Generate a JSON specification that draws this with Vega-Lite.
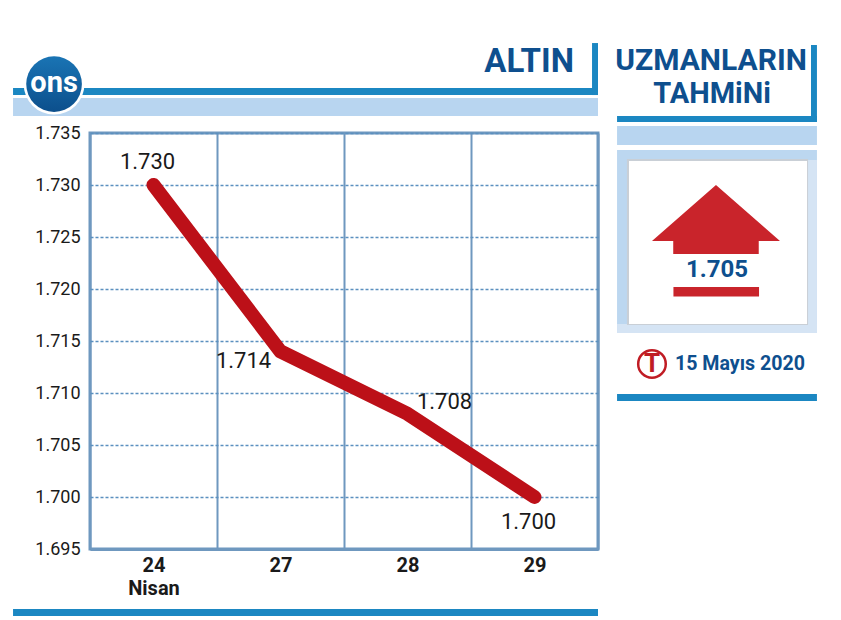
{
  "$schema": "https://vega.github.io/schema/vega-lite/v6.json",
  "description": "Altin ons fiyati, 24-29 Nisan, ve uzman tahmini",
  "width": 508,
  "height": 416,
  "autosize": {"type": "none"},
  "padding": {"left": 90, "top": 133, "right": 243, "bottom": 71},
  "background": "white",
  "view": {"stroke": "#6f98bf", "strokeWidth": 3},
  "config": {"text": {"font": "Roboto"}},
  "resolve": {"scale": {"x": "independent", "y": "independent"}},
  "layer": [
    {
      "data": {"values": [{}]},
      "layer": [
        {"mark": {"type": "rect", "color": "#1b87c2"}, "encoding": {
          "x": {"datum": -0.606, "type": "quantitative", "scale": {"domain": [0, 4]}, "axis": null},
          "x2": {"datum": 4},
          "y": {"datum": 1739.33, "type": "quantitative", "scale": {"domain": [1695, 1735]}, "axis": null},
          "y2": {"datum": 1738.65}}},
        {"mark": {"type": "rect", "color": "#1b87c2"}, "encoding": {
          "x": {"datum": 3.953, "type": "quantitative", "axis": null},
          "x2": {"datum": 4},
          "y": {"datum": 1743.65, "type": "quantitative", "axis": null},
          "y2": {"datum": 1738.65}}},
        {"mark": {"type": "rect", "color": "#b8d5f0"}, "encoding": {
          "x": {"datum": -0.606, "type": "quantitative", "axis": null},
          "x2": {"datum": 4},
          "y": {"datum": 1738.37, "type": "quantitative", "axis": null},
          "y2": {"datum": 1736.63}}},
        {"mark": {"type": "rect", "color": "#1b87c2"}, "encoding": {
          "x": {"datum": -0.606, "type": "quantitative", "axis": null},
          "x2": {"datum": 4},
          "y": {"datum": 1689.23, "type": "quantitative", "axis": null},
          "y2": {"datum": 1688.56}}},
        {"mark": {"type": "point", "shape": "circle", "filled": true, "size": 3700, "color": "white", "opacity": 1}, "encoding": {
          "x": {"datum": -0.283, "type": "quantitative", "axis": null},
          "y": {"datum": 1739.7, "type": "quantitative", "axis": null}}},
        {"mark": {"type": "point", "shape": "circle", "filled": true, "size": 3100, "opacity": 1,
          "fill": {"gradient": "linear", "x1": 0, "y1": 0, "x2": 0, "y2": 1, "stops": [{"offset": 0, "color": "#1a74b4"}, {"offset": 1, "color": "#0c4f8c"}]}}, "encoding": {
          "x": {"datum": -0.283, "type": "quantitative", "axis": null},
          "y": {"datum": 1739.7, "type": "quantitative", "axis": null}}},
        {"mark": {"type": "text", "text": "ons", "color": "white", "fontWeight": "bold", "fontSize": 29, "align": "center", "baseline": "middle"}, "encoding": {
          "x": {"datum": -0.283, "type": "quantitative", "axis": null},
          "y": {"datum": 1739.8, "type": "quantitative", "axis": null}}},
        {"mark": {"type": "text", "text": "ALTIN", "color": "#0e4f8e", "fontWeight": "bold", "fontSize": 33, "align": "right", "baseline": "middle"}, "encoding": {
          "x": {"datum": 3.811, "type": "quantitative", "axis": null},
          "y": {"datum": 1741.83, "type": "quantitative", "axis": null}}},

        {"mark": {"type": "text", "text": "UZMANLARIN", "color": "#0e4f8e", "fontWeight": "bold", "fontSize": 30, "align": "center", "baseline": "middle"}, "encoding": {
          "x": {"datum": 4.89, "type": "quantitative", "axis": null},
          "y": {"datum": 1741.97, "type": "quantitative", "axis": null}}},
        {"mark": {"type": "text", "text": "TAHMiNi", "color": "#0e4f8e", "fontWeight": "bold", "fontSize": 29, "align": "center", "baseline": "middle"}, "encoding": {
          "x": {"datum": 4.898, "type": "quantitative", "axis": null},
          "y": {"datum": 1738.75, "type": "quantitative", "axis": null}}},
        {"mark": {"type": "rect", "color": "#1b87c2"}, "encoding": {
          "x": {"datum": 4.15, "type": "quantitative", "axis": null},
          "x2": {"datum": 5.724},
          "y": {"datum": 1736.63, "type": "quantitative", "axis": null},
          "y2": {"datum": 1736.06}}},
        {"mark": {"type": "rect", "color": "#1b87c2"}, "encoding": {
          "x": {"datum": 5.677, "type": "quantitative", "axis": null},
          "x2": {"datum": 5.724},
          "y": {"datum": 1743.46, "type": "quantitative", "axis": null},
          "y2": {"datum": 1736.06}}},
        {"mark": {"type": "rect", "color": "#b8d5f0"}, "encoding": {
          "x": {"datum": 4.15, "type": "quantitative", "axis": null},
          "x2": {"datum": 5.724},
          "y": {"datum": 1735.67, "type": "quantitative", "axis": null},
          "y2": {"datum": 1733.85}}},
        {"mark": {"type": "rect", "color": "#bcd7f0"}, "encoding": {
          "x": {"datum": 4.15, "type": "quantitative", "axis": null},
          "x2": {"datum": 5.724},
          "y": {"datum": 1733.37, "type": "quantitative", "axis": null},
          "y2": {"datum": 1715.77}}},
        {"mark": {"type": "rect", "color": "#d5e4f4"}, "encoding": {
          "x": {"datum": 5.646, "type": "quantitative", "axis": null},
          "x2": {"datum": 5.724},
          "y": {"datum": 1732.4, "type": "quantitative", "axis": null},
          "y2": {"datum": 1715.77}}},
        {"mark": {"type": "rect", "color": "#d5e4f4"}, "encoding": {
          "x": {"datum": 4.15, "type": "quantitative", "axis": null},
          "x2": {"datum": 5.724},
          "y": {"datum": 1716.63, "type": "quantitative", "axis": null},
          "y2": {"datum": 1715.77}}},
        {"mark": {"type": "rect", "color": "#c9cfd6"}, "encoding": {
          "x": {"datum": 4.228, "type": "quantitative", "axis": null},
          "x2": {"datum": 5.654},
          "y": {"datum": 1732.5, "type": "quantitative", "axis": null},
          "y2": {"datum": 1716.54}}},
        {"mark": {"type": "rect", "color": "white"}, "encoding": {
          "x": {"datum": 4.244, "type": "quantitative", "axis": null},
          "x2": {"datum": 5.646},
          "y": {"datum": 1732.31, "type": "quantitative", "axis": null},
          "y2": {"datum": 1716.63}}},
        {"mark": {"type": "point", "filled": true, "opacity": 1, "color": "#c9242b", "size": 16384,
          "shape": "M0,-0.539 L1,0.336 L0.668,0.336 L0.668,0.539 L-0.668,0.539 L-0.668,0.336 L-1,0.336 Z"}, "encoding": {
          "x": {"datum": 4.929, "type": "quantitative", "axis": null},
          "y": {"datum": 1726.68, "type": "quantitative", "axis": null}}},
        {"mark": {"type": "text", "text": "1.705", "color": "#0e4f8e", "fontWeight": "bold", "fontSize": 24, "align": "center", "baseline": "middle"}, "encoding": {
          "x": {"datum": 4.937, "type": "quantitative", "axis": null},
          "y": {"datum": 1721.83, "type": "quantitative", "axis": null}}},
        {"mark": {"type": "rect", "color": "#c9242b"}, "encoding": {
          "x": {"datum": 4.594, "type": "quantitative", "axis": null},
          "x2": {"datum": 5.268},
          "y": {"datum": 1720.19, "type": "quantitative", "axis": null},
          "y2": {"datum": 1719.28}}},
        {"mark": {"type": "point", "shape": "circle", "filled": false, "size": 760, "stroke": "#c01c24", "strokeWidth": 2.5, "opacity": 1}, "encoding": {
          "x": {"datum": 4.425, "type": "quantitative", "axis": null},
          "y": {"datum": 1712.79, "type": "quantitative", "axis": null}}},
        {"mark": {"type": "text", "text": "T", "color": "#c01c24", "fontWeight": "bold", "fontSize": 26, "align": "center", "baseline": "middle"}, "encoding": {
          "x": {"datum": 4.425, "type": "quantitative", "axis": null},
          "y": {"datum": 1712.79, "type": "quantitative", "axis": null}}},
        {"mark": {"type": "text", "text": "15 Mayıs 2020", "color": "#0e4f8e", "fontWeight": "bold", "fontSize": 19.6, "align": "left", "baseline": "middle"}, "encoding": {
          "x": {"datum": 4.606, "type": "quantitative", "axis": null},
          "y": {"datum": 1712.79, "type": "quantitative", "axis": null}}},
        {"mark": {"type": "rect", "color": "#1b87c2"}, "encoding": {
          "x": {"datum": 4.15, "type": "quantitative", "axis": null},
          "x2": {"datum": 5.724},
          "y": {"datum": 1709.9, "type": "quantitative", "axis": null},
          "y2": {"datum": 1709.23}}}
      ]
    },
    {
      "data": {"values": [
        {"gun": "24", "ons": 1730, "etiket": "1.730"},
        {"gun": "27", "ons": 1714, "etiket": "1.714"},
        {"gun": "28", "ons": 1708, "etiket": "1.708"},
        {"gun": "29", "ons": 1700, "etiket": "1.700"}
      ]},
      "encoding": {
        "x": {
          "field": "gun", "type": "nominal", "sort": null, "title": null,
          "axis": {
            "labelAngle": 0, "labelFont": "Roboto", "labelFontWeight": "bold", "labelFontSize": 20,
            "labelColor": "#1a1a1a", "labelPadding": 6, "labelLineHeight": 23, "labelBaseline": "top",
            "labelExpr": "datum.value == '24' ? ['24', 'Nisan'] : datum.value",
            "ticks": false, "domainColor": "#6f98bf", "domainWidth": 3,
            "grid": true, "tickBand": "extent", "gridColor": "#6f98bf", "gridWidth": 2
          }
        },
        "y": {
          "field": "ons", "type": "quantitative", "title": null,
          "scale": {"domain": [1695, 1735], "nice": false, "zero": false},
          "axis": {
            "values": [1695, 1700, 1705, 1710, 1715, 1720, 1725, 1730, 1735],
            "labelExpr": "format(datum.value / 1000, '.3f')",
            "labelFont": "Roboto", "labelFontSize": 18, "labelColor": "#1a1a1a", "labelPadding": 10,
            "ticks": false, "domain": false,
            "grid": true, "gridColor": "#5b90bf", "gridDash": [3, 2], "gridWidth": 1.5
          }
        }
      },
      "layer": [
        {"mark": {"type": "line", "color": "#bc1018", "strokeWidth": 14, "strokeCap": "round", "strokeJoin": "round"}},
        {"transform": [{"filter": "datum.gun == '24'"}], "mark": {"type": "text", "fontSize": 22, "color": "#1a1a1a", "dx": -6, "dy": -23}, "encoding": {"text": {"field": "etiket"}}},
        {"transform": [{"filter": "datum.gun == '27'"}], "mark": {"type": "text", "fontSize": 22, "color": "#1a1a1a", "dx": -37, "dy": 10}, "encoding": {"text": {"field": "etiket"}}},
        {"transform": [{"filter": "datum.gun == '28'"}], "mark": {"type": "text", "fontSize": 22, "color": "#1a1a1a", "dx": 37, "dy": -12}, "encoding": {"text": {"field": "etiket"}}},
        {"transform": [{"filter": "datum.gun == '29'"}], "mark": {"type": "text", "fontSize": 22, "color": "#1a1a1a", "dx": -6, "dy": 25}, "encoding": {"text": {"field": "etiket"}}}
      ]
    }
  ]
}
